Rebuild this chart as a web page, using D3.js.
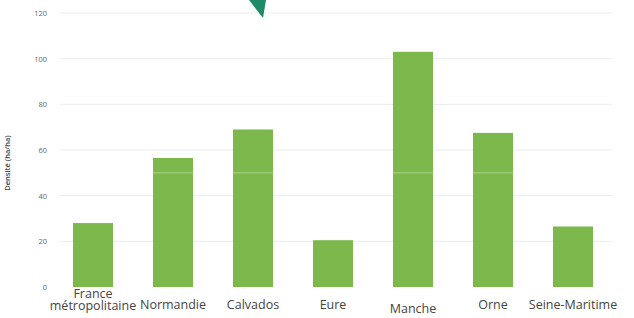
<!DOCTYPE html>
<html lang="en">
<head>
<meta charset="utf-8">
<title>Densité</title>
<script src="https://d3js.org/d3.v7.min.js"></script>
<style>
  body { margin: 0; background: #fff; }
  svg { display: block; }
</style>
</head>
<body>
<script>
// data
const categories = ["France métropolitaine", "Normandie", "Calvados", "Eure", "Manche", "Orne", "Seine-Maritime"];
const densite = [28, 56.5, 69, 20.5, 103, 67.5, 26.5];
const yTicks = [0, 20, 40, 60, 80, 100, 120];

const W = 634, H = 318;

const svg = d3.select("body").append("svg")
    .attr("width", W)
    .attr("height", H);

const x = d3.scaleBand()
    .domain(categories)
    .range([53, 613])
    .paddingInner(0.5)
    .paddingOuter(0.25);

const y = d3.scaleLinear()
    .domain([0, 120])
    .range([287, 13]);

// gridlines
svg.append("g")
    .selectAll("line")
    .data(yTicks.slice(1))
    .enter().append("line")
    .attr("x1", 60)
    .attr("x2", 612)
    .attr("y1", d => y(d))
    .attr("y2", d => y(d))
    .style("stroke", "#ececec")
    .style("stroke-width", 1);

// y axis
const yAxis = d3.axisLeft(y).tickValues(yTicks).tickSize(0).tickPadding(0);
const gy = svg.append("g").attr("transform", "translate(47,0)").call(yAxis);
gy.select(".domain").remove();
gy.selectAll("text")
    .style("font-family", "'Open Sans', sans-serif")
    .style("font-size", "7.5px")
    .style("fill", "#666");

// y label
svg.append("text")
    .attr("transform", "translate(10,163) rotate(-90)")
    .attr("text-anchor", "middle")
    .style("font-family", "'Open Sans', sans-serif")
    .style("font-size", "7.5px")
    .style("font-weight", "600")
    .style("fill", "#444")
    .text("Densité (ha/ha)");

// bars
svg.append("g")
    .selectAll("rect")
    .data(densite)
    .enter().append("rect")
    .attr("x", (d, i) => x(categories[i]))
    .attr("width", x.bandwidth())
    .attr("y", d => y(d))
    .attr("height", d => y(0) - y(d))
    .style("fill", "#7cb84c");

// faint line across bars
svg.append("line")
    .attr("x1", 60).attr("x2", 612)
    .attr("y1", y(50)).attr("y2", y(50))
    .style("stroke", "#ffffff")
    .style("stroke-opacity", 0.35);

// x labels
const labelY = [null, 309, 309, 309, 313, 309, 309];
const lab = svg.append("g")
    .style("font-family", "'Open Sans', sans-serif")
    .style("font-size", "12.5px")
    .style("fill", "#444");

categories.forEach((c, i) => {
    const cx = x(c) + x.bandwidth() / 2;
    if (i === 0) {
        // wrapped onto two lines, as in the original
        const t = lab.append("text").attr("text-anchor", "middle");
        t.append("tspan").attr("x", cx).attr("y", 298).text("France");
        t.append("tspan").attr("x", cx).attr("y", 310).text("métropolitaine");
    } else {
        lab.append("text").attr("x", cx).attr("y", labelY[i]).attr("text-anchor", "middle").text(c);
    }
});

// teal marker at the top
svg.append("path")
    .attr("d", "M249,0 L266,0 L263,18 Z")
    .style("fill", "#1f8a66");
</script>
</body>
</html>
